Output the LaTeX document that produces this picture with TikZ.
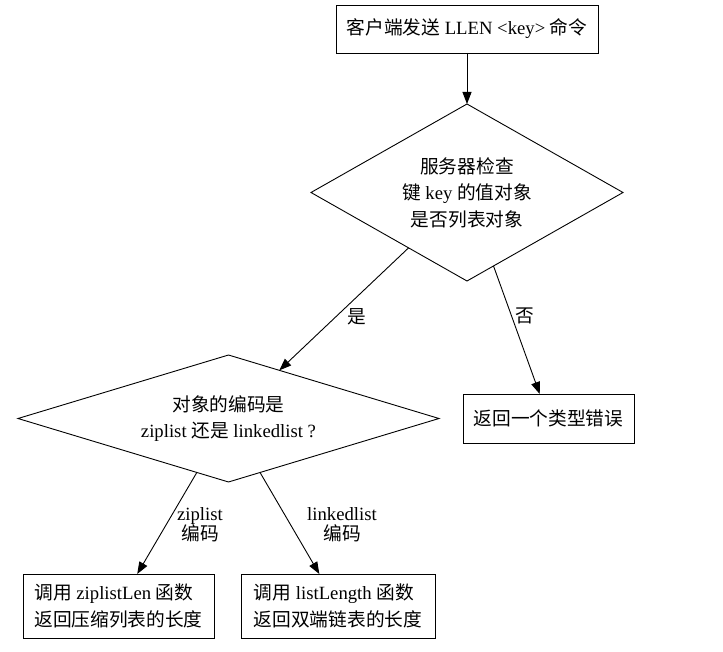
\documentclass[tikz,border=0pt]{standalone}
\usepackage{fontspec}
\setmainfont{Liberation Serif}
\newfontfamily\cjkfont{Noto Sans CJK SC}
\newcommand\zhtext[1]{{\cjkfont #1}}
\usetikzlibrary{shapes.geometric,arrows.meta}
\tikzset{
  base/.style={font=\fontsize{18.7}{26.5}\selectfont, inner sep=0pt, outer sep=0pt, line width=0.9pt},
  boxnode/.style={base, draw, rectangle, align=center},
  decision/.style={base, draw, diamond, align=center},
  edgelabel/.style={font=\fontsize{18.7}{20}\selectfont, inner sep=0pt, align=center},
  flow/.style={line width=0.9pt, -{Triangle[length=12pt,width=9pt]}}
}
\begin{document}
\begin{tikzpicture}[x=1pt,y=-1pt]
\useasboundingbox (0,0) rectangle (723,652);
\node[boxnode, minimum width=262pt, minimum height=48pt] (start) at (467,29)
  {\zhtext{客户端发送} LLEN <key> \zhtext{命令}};
\node[decision, minimum width=312pt, minimum height=177pt, aspect=1.76] (check) at (467,192.5)
  {\zhtext{服务器检查}\\ \zhtext{键} key \zhtext{的值对象}\\ \zhtext{是否列表对象}};
\node[decision, minimum width=421pt, minimum height=127pt, aspect=3.31] (enc) at (228.5,418.5)
  {\zhtext{对象的编码是}\\ ziplist \zhtext{还是} linkedlist ?};
\node[boxnode, minimum width=171pt, minimum height=49pt] (err) at (548.5,418.5)
  {\zhtext{返回一个类型错误}};
\node[boxnode, minimum width=191pt, minimum height=64pt, align=left] (zl) at (118.5,606)
  {\zhtext{调用} ziplistLen \zhtext{函数}\\ \zhtext{返回压缩列表的长度}};
\node[boxnode, minimum width=194pt, minimum height=64pt, align=left] (ll) at (338,606)
  {\zhtext{调用} listLength \zhtext{函数}\\ \zhtext{返回双端链表的长度}};

\draw[flow] (start) -- (check);
\draw[flow] (check) -- (enc);
\draw[flow] (check) -- (err);
\draw[flow] (enc) -- (zl);
\draw[flow] (enc) -- (ll);

\node[edgelabel] (lyes) at (357,317) {\zhtext{是}};
\node[edgelabel] (lno) at (525,316) {\zhtext{否}};
\node[edgelabel] (lzip) at (200,525) {ziplist\\ \zhtext{编码}};
\node[edgelabel] (llink) at (342,525) {linkedlist\\ \zhtext{编码}};
\end{tikzpicture}
\end{document}
